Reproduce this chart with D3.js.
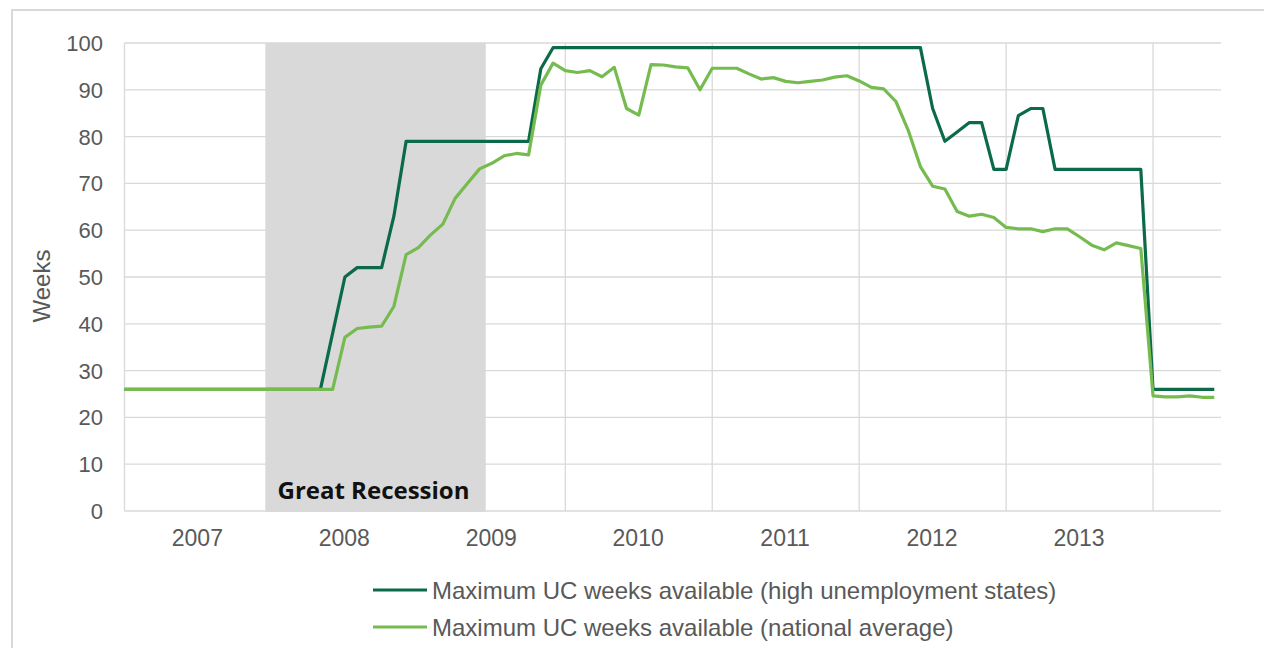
<!DOCTYPE html>
<html>
<head>
<meta charset="utf-8">
<script src="https://cdn.jsdelivr.net/npm/d3@7"></script>
<style>
  body { margin: 0; background: #fff; }
  text { font-family: "Liberation Sans", Arial, sans-serif; }
</style>
</head>
<body>
<script>
// monthly values, Jan 2007 .. Jun 2014
var highStates = [
  26,26,26,26,26,26,26,26,26,26,26,26,   // 2007
  26,26,26,26,26,38,50,52,52,52,63,79,   // 2008
  79,79,79,79,79,79,79,79,79,79,94.5,99, // 2009
  99,99,99,99,99,99,99,99,99,99,99,99,   // 2010
  99,99,99,99,99,99,99,99,99,99,99,99,   // 2011
  99,99,99,99,99,99,86,79,81,83,83,73,   // 2012
  73,84.5,86,86,73,73,73,73,73,73,73,73, // 2013
  26,26,26,26,26,26                      // 2014
];
var nationalAvg = [
  26,26,26,26,26,26,26,26,26,26,26,26,
  26,26,26,26,26,26,37.1,39,39.3,39.5,43.7,54.8,
  56.3,59,61.3,66.8,70,73.1,74.3,75.9,76.4,76.1,91,95.7,
  94.1,93.7,94.1,92.8,94.8,86,84.6,95.4,95.3,94.9,94.7,90,
  94.6,94.6,94.6,93.4,92.3,92.6,91.8,91.5,91.8,92.1,92.7,93,
  91.9,90.5,90.2,87.5,81.4,73.6,69.4,68.8,64,63,63.4,62.7,
  60.6,60.3,60.3,59.7,60.3,60.3,58.6,56.8,55.8,57.3,56.7,56.1,
  24.6,24.4,24.4,24.6,24.3,24.3
];
var yearLabels = ["2007","2008","2009","2010","2011","2012","2013"];
var yTicks = [0,10,20,30,40,50,60,70,80,90,100];
var recession = [11.5, 29.5]; // Dec 2007 .. Jun 2009 (month index)
var seriesNames = [
  "Maximum UC weeks available (high unemployment states)",
  "Maximum UC weeks available (national average)"
];
var colors = ["#0b6b48", "#76bb4f"];

var W = 1264, H = 648;
var pLeft = 124.5, pRight = 1221, pTop = 43, pBottom = 511;

var svg = d3.select("body").append("svg")
    .attr("width", W)
    .attr("height", H);

// outer chart border
svg.append("path")
    .attr("d", "M12," + H + "V10H" + W)
    .attr("fill", "none")
    .attr("stroke", "#d9d9d9")
    .attr("stroke-width", 2);

var x = d3.scaleLinear().domain([0, 89.55]).range([pLeft, pRight]);
var y = d3.scaleLinear().domain([0, 100]).range([pBottom, pTop]);

var gridColor = "#d9d9d9";

// horizontal gridlines
svg.append("g").selectAll("line")
    .data(yTicks)
    .join("line")
    .attr("x1", pLeft).attr("x2", pRight)
    .attr("y1", d => y(d)).attr("y2", d => y(d))
    .attr("stroke", gridColor)
    .attr("stroke-width", 1.3);

// vertical gridlines every 12 months
svg.append("g").selectAll("line")
    .data(d3.range(0, 90, 12))
    .join("line")
    .attr("x1", d => x(d)).attr("x2", d => x(d))
    .attr("y1", pTop).attr("y2", pBottom)
    .attr("stroke", gridColor)
    .attr("stroke-width", 1.3);

// recession shading
svg.append("rect")
    .attr("x", x(recession[0]))
    .attr("y", pTop)
    .attr("width", x(recession[1]) - x(recession[0]))
    .attr("height", pBottom - pTop + 1)
    .attr("fill", "#d9d9d9");

svg.append("text")
    .attr("x", (x(recession[0]) + x(recession[1])) / 2 - 2)
    .attr("y", 499)
    .attr("text-anchor", "middle")
    .style("font-family", "'Open Sans', Lato, sans-serif")
    .style("font-weight", "bold")
    .style("font-size", "24px")
    .attr("fill", "#111")
    .text("Great Recession");

// y tick labels
svg.append("g").selectAll("text")
    .data(yTicks)
    .join("text")
    .attr("x", 103)
    .attr("y", d => y(d))
    .attr("dy", "0.36em")
    .attr("text-anchor", "end")
    .style("font-size", "22px")
    .attr("fill", "#595959")
    .text(d => d);

// year labels, centered on each year
svg.append("g").selectAll("text")
    .data(yearLabels)
    .join("text")
    .attr("x", (d, i) => x(i * 12 + 5.95))
    .attr("y", 546)
    .attr("text-anchor", "middle")
    .style("font-size", "23px")
    .attr("fill", "#595959")
    .text(d => d);

svg.append("text")
    .attr("transform", "translate(50,286) rotate(-90)")
    .attr("text-anchor", "middle")
    .style("font-size", "24px")
    .attr("fill", "#595959")
    .text("Weeks");

// lines
var line = d3.line()
    .x((d, i) => x(i))
    .y(d => y(d));

[highStates, nationalAvg].forEach(function(s, k){
    svg.append("path")
        .datum(s)
        .attr("d", line)
        .attr("fill", "none")
        .attr("stroke", colors[k])
        .attr("stroke-width", 3.2)
        .attr("stroke-linejoin", "round");
});

// legend
var legend = svg.append("g").selectAll("g")
    .data(seriesNames)
    .join("g")
    .attr("transform", (d, i) => "translate(373," + (590 + i * 37) + ")");

legend.append("line")
    .attr("x1", 0).attr("x2", 54)
    .attr("stroke", (d, i) => colors[i])
    .attr("stroke-width", 3.2);

legend.append("text")
    .attr("x", 59)
    .attr("dy", "0.36em")
    .style("font-size", "24px")
    .attr("fill", "#595959")
    .text(d => d);
</script>
</body>
</html>
